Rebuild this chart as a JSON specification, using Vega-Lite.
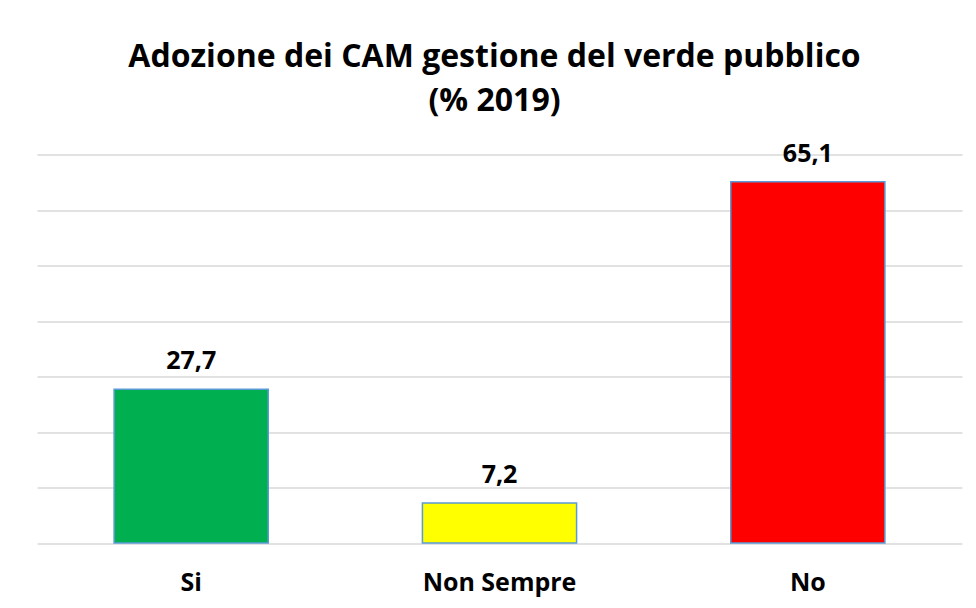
{
  "$schema": "https://vega.github.io/schema/vega-lite/v6.json",
  "width": 925,
  "height": 388.5,
  "autosize": {"type": "none"},
  "padding": {"left": 37, "top": 154.5, "right": 14, "bottom": 65},
  "background": "white",
  "title": {
    "text": ["Adozione dei CAM gestione del verde pubblico", "(% 2019)"],
    "font": "Open Sans",
    "fontSize": 32,
    "fontWeight": "bold",
    "color": "#000000",
    "anchor": "middle",
    "dx": -5,
    "baseline": "alphabetic",
    "lineHeight": 44,
    "offset": -1
  },
  "data": {
    "values": [
      {"categoria": "Si", "valore": 27.7, "etichetta": "27,7"},
      {"categoria": "Non Sempre", "valore": 7.2, "etichetta": "7,2"},
      {"categoria": "No", "valore": 65.1, "etichetta": "65,1"}
    ]
  },
  "encoding": {
    "x": {
      "field": "categoria",
      "type": "nominal",
      "sort": ["Si", "Non Sempre", "No"],
      "scale": {"paddingInner": 0.5, "paddingOuter": 0.25},
      "axis": {
        "title": null,
        "labelAngle": 0,
        "domain": false,
        "ticks": false,
        "tickSize": 0,
        "labelFont": "Open Sans",
        "labelFontSize": 25,
        "labelFontWeight": "bold",
        "labelColor": "#000000",
        "labelBaseline": "alphabetic",
        "labelPadding": 47
      }
    },
    "y": {
      "field": "valore",
      "type": "quantitative",
      "scale": {"domain": [0, 70], "nice": false},
      "axis": {
        "title": null,
        "labels": false,
        "ticks": false,
        "domain": false,
        "values": [0, 10, 20, 30, 40, 50, 60, 70],
        "grid": true,
        "gridColor": "#d9d9d9",
        "gridWidth": 1.5
      }
    }
  },
  "layer": [
    {
      "mark": {"type": "bar", "stroke": "#5B9BD5", "strokeWidth": 1.5},
      "encoding": {
        "color": {
          "field": "categoria",
          "type": "nominal",
          "scale": {"domain": ["Si", "Non Sempre", "No"], "range": ["#00B050", "#FFFF00", "#FF0000"]},
          "legend": null
        }
      }
    },
    {
      "mark": {"type": "text", "font": "Open Sans", "fontSize": 25, "fontWeight": "bold", "color": "#000000", "baseline": "alphabetic", "dy": -20},
      "encoding": {
        "text": {"field": "etichetta"}
      }
    }
  ],
  "config": {
    "view": {"stroke": null}
  }
}
